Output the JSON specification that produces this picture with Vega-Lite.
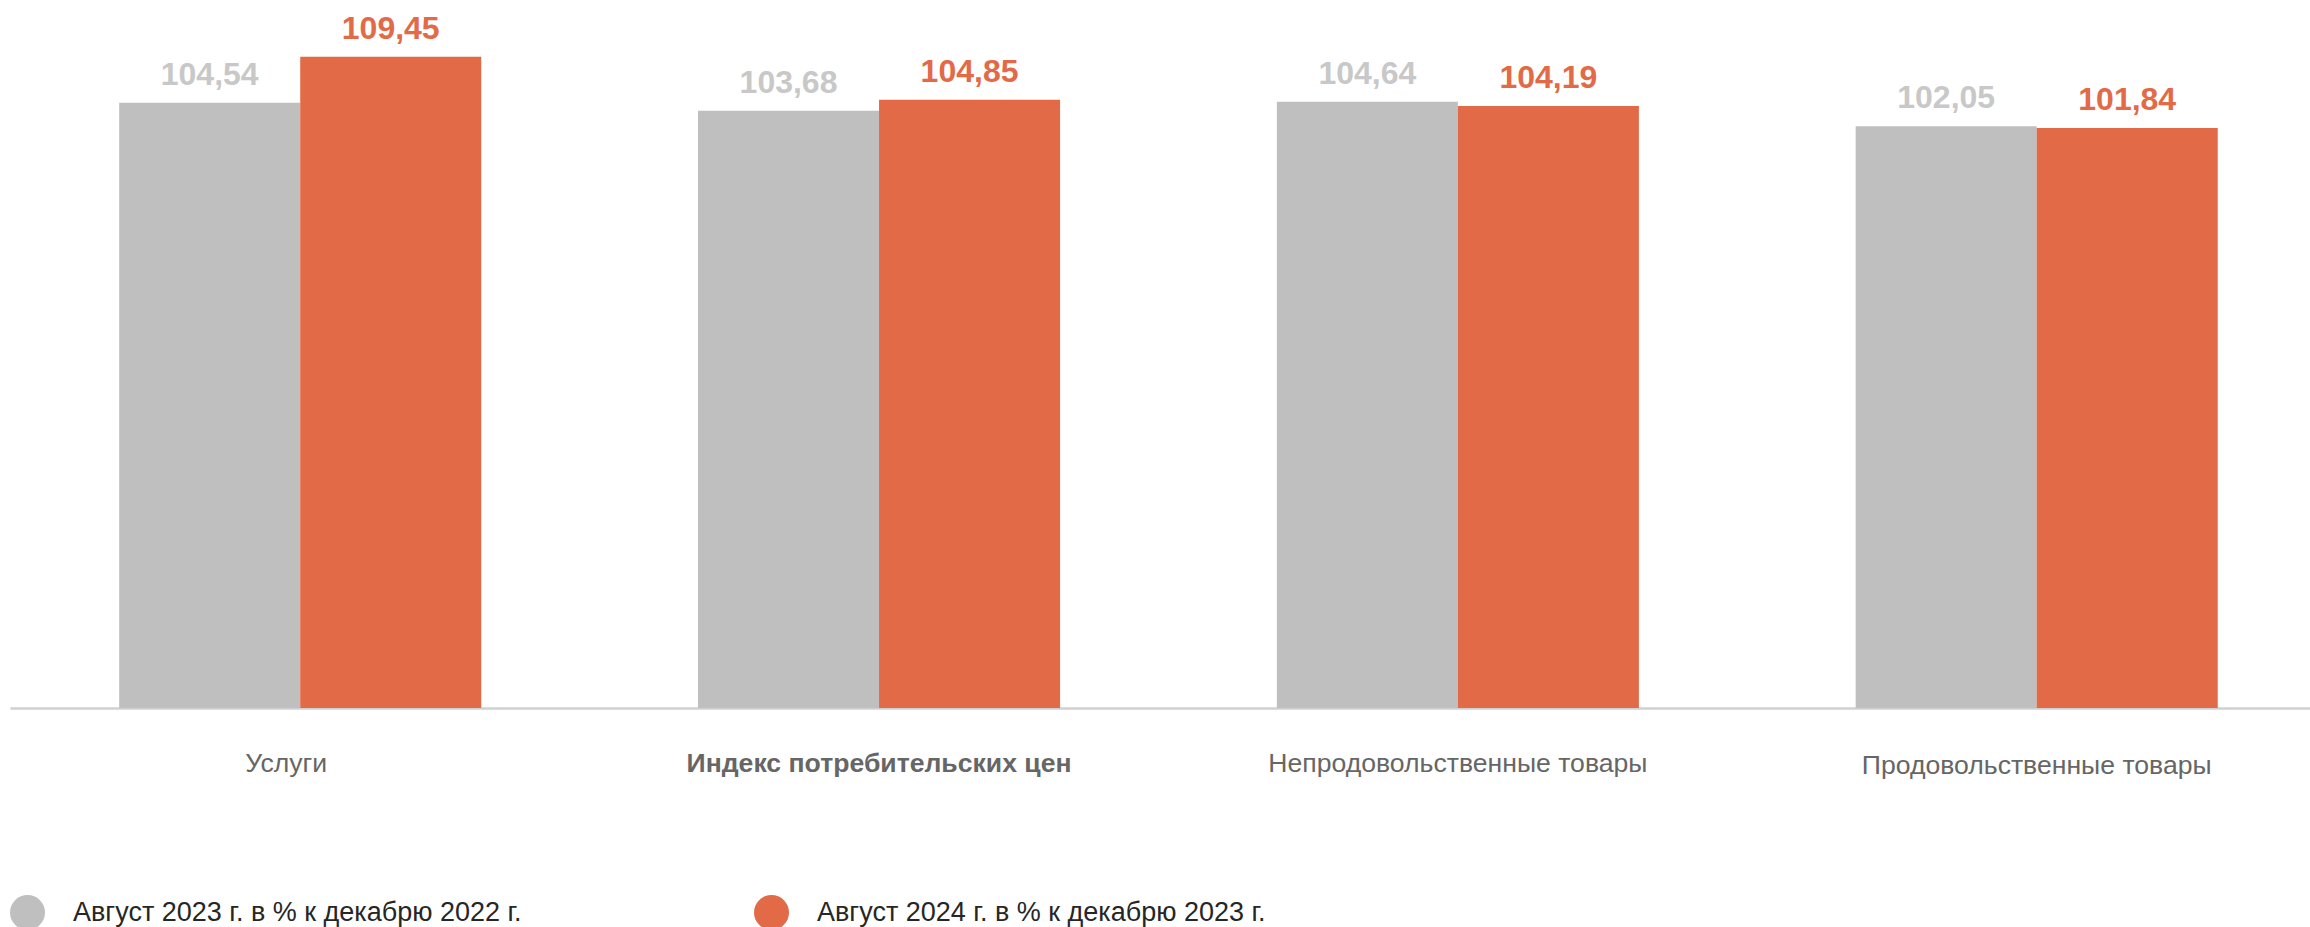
{
  "$schema": "https://vega.github.io/schema/vega-lite/v6.json",
  "width": 2300,
  "height": 708,
  "autosize": {"type": "none"},
  "padding": {"left": 10, "top": 0, "right": 0, "bottom": 219},
  "background": "white",
  "config": {
    "view": {"stroke": null},
    "font": "Liberation Sans",
    "locale": {"number": {"decimal": ",", "thousands": " ", "grouping": [3], "currency": ["", ""]}}
  },
  "data": {
    "values": [
      {"category": "Услуги", "series": "Август 2023 г. в % к декабрю 2022 г.", "value": 104.54},
      {"category": "Услуги", "series": "Август 2024 г. в % к декабрю 2023 г.", "value": 109.45},
      {"category": "Индекс потребительских цен", "series": "Август 2023 г. в % к декабрю 2022 г.", "value": 103.68},
      {"category": "Индекс потребительских цен", "series": "Август 2024 г. в % к декабрю 2023 г.", "value": 104.85},
      {"category": "Непродовольственные товары", "series": "Август 2023 г. в % к декабрю 2022 г.", "value": 104.64},
      {"category": "Непродовольственные товары", "series": "Август 2024 г. в % к декабрю 2023 г.", "value": 104.19},
      {"category": "Продовольственные товары", "series": "Август 2023 г. в % к декабрю 2022 г.", "value": 102.05},
      {"category": "Продовольственные товары", "series": "Август 2024 г. в % к декабрю 2023 г.", "value": 101.84}
    ]
  },
  "encoding": {
    "x": {
      "field": "category",
      "type": "nominal",
      "sort": ["Услуги", "Индекс потребительских цен", "Непродовольственные товары", "Продовольственные товары"],
      "scale": {"paddingInner": 0.3745, "paddingOuter": 0.174, "align": 0.542},
      "axis": {
        "title": null,
        "domainColor": "#D0D0D0",
        "domainWidth": 2.5,
        "ticks": false,
        "tickSize": 0,
        "grid": false,
        "labelAngle": 0,
        "labelFontSize": 26.6,
        "labelColor": "#666666",
        "labelPadding": {"condition": {"test": "datum.value === 'Продовольственные товары'", "value": 65}, "value": 63},
        "labelOffset": {"condition": {"test": "datum.value === 'Услуги'", "value": -14}, "value": 0},
        "labelBaseline": "alphabetic",
        "labelLimit": 0,
        "labelFontWeight": {"condition": {"test": "datum.value === 'Индекс потребительских цен'", "value": "bold"}, "value": "normal"}
      }
    },
    "xOffset": {
      "field": "series",
      "type": "nominal",
      "sort": ["Август 2023 г. в % к декабрю 2022 г.", "Август 2024 г. в % к декабрю 2023 г."],
      "scale": {"paddingInner": 0, "paddingOuter": 0}
    },
    "y": {
      "field": "value",
      "type": "quantitative",
      "scale": {"domain": [40, 115.5], "zero": false, "nice": false},
      "axis": null
    }
  },
  "layer": [
    {
      "mark": {"type": "bar"},
      "encoding": {
        "y2": {"datum": 40},
        "color": {
          "field": "series",
          "type": "nominal",
          "scale": {"domain": ["Август 2023 г. в % к декабрю 2022 г.", "Август 2024 г. в % к декабрю 2023 г."], "range": ["#BFBFBF", "#E36A47"]},
          "legend": {
            "title": null,
            "orient": "none",
            "legendX": 0,
            "legendY": 895,
            "direction": "horizontal",
            "symbolType": "circle",
            "symbolSize": 1225,
            "symbolStrokeWidth": 0,
            "symbolOpacity": 1,
            "labelFontSize": 27,
            "labelColor": "#262626",
            "labelOffset": 28,
            "columnPadding": 232,
            "labelLimit": 0,
            "padding": 0
          }
        }
      }
    },
    {
      "mark": {"type": "text", "dy": -18, "baseline": "alphabetic", "fontSize": 32, "fontWeight": "bold"},
      "encoding": {
        "text": {"field": "value", "type": "quantitative", "format": ".2f"},
        "color": {
          "condition": {"test": "datum.series === 'Август 2023 г. в % к декабрю 2022 г.'", "value": "#C8C8C8"},
          "value": "#E36A47"
        }
      }
    }
  ]
}
